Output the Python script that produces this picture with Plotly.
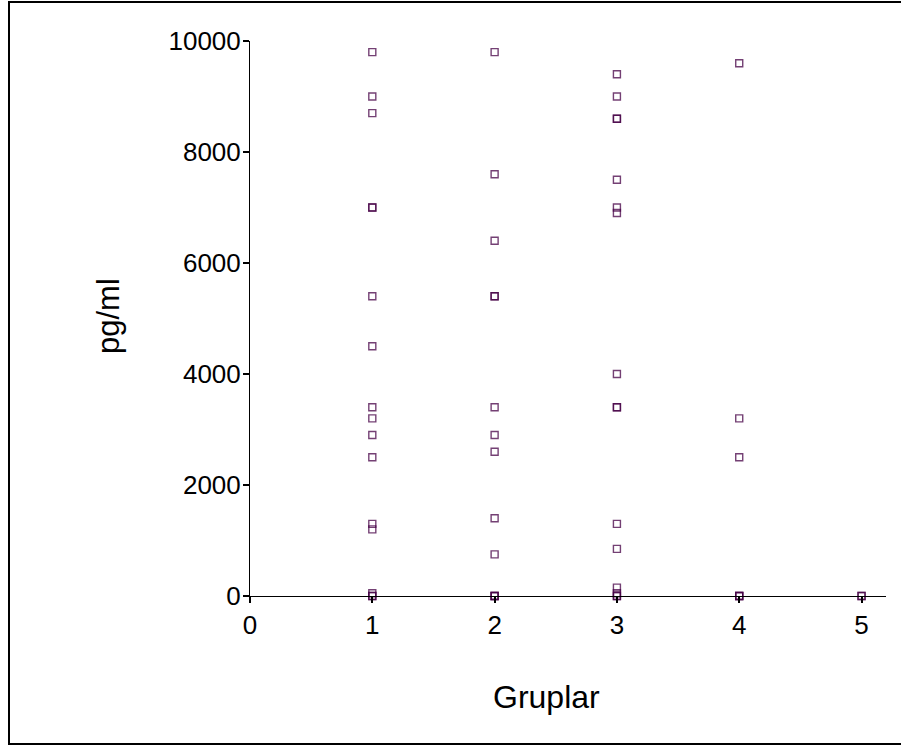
import plotly.graph_objects as go

# Data (groups 1..5, pg/ml values)
group1 = [9800, 9000, 8700, 7000, 7000, 5400, 4500, 3400, 3200, 2900, 2500, 1300, 1200, 50, 0, 0]
group2 = [9800, 7600, 6400, 5400, 5400, 3400, 2900, 2600, 1400, 750, 0, 0, 0]
group3 = [9400, 9000, 8600, 8600, 7500, 7000, 6900, 4000, 3400, 3400, 1300, 850, 150, 50, 0, 0]
group4 = [9600, 3200, 2500, 0, 0, 0]
group5 = [0, 0]
groups = [1, 2, 3, 4, 5]
values = [group1, group2, group3, group4, group5]

x_ticks = [0, 1, 2, 3, 4, 5]
y_ticks = [0, 2000, 4000, 6000, 8000, 10000]

xs, ys = [], []
for g, vals in zip(groups, values):
    xs += [g] * len(vals)
    ys += vals

FONT = "Liberation Sans, Arial, sans-serif"

fig = go.Figure()
fig.add_trace(go.Scatter(
    x=xs, y=ys, mode="markers",
    marker=dict(symbol="square-open", size=7,
                color="rgba(70,0,70,0.75)",
                line=dict(width=1.4, color="rgba(70,0,70,0.75)")),
    cliponaxis=False, showlegend=False, hoverinfo="x+y",
))

fig.update_layout(
    width=901, height=746,
    margin=dict(l=250, r=15, t=41, b=150),
    paper_bgcolor="white", plot_bgcolor="white",
    font=dict(family=FONT, color="black"),
    xaxis=dict(
        range=[0, 5.2], tickvals=x_ticks, ticktext=[str(v) for v in x_ticks],
        showgrid=False, zeroline=False, showline=True, linecolor="black", linewidth=1,
        ticks="outside", ticklen=6, tickwidth=2, tickcolor="black",
        tickfont=dict(size=26, family=FONT, color="black"),
    ),
    yaxis=dict(
        range=[0, 10000], tickvals=y_ticks, ticktext=[str(v) for v in y_ticks],
        showgrid=False, zeroline=False, showline=True, linecolor="black", linewidth=1,
        ticks="outside", ticklen=6, tickwidth=2, tickcolor="black",
        ticklabelstandoff=-3,
        tickfont=dict(size=26, family=FONT, color="black"),
    ),
    annotations=[
        dict(text="Gruplar", xref="paper", yref="paper",
             x=(546 - 250) / 636, y=-(697 - 596) / 555,
             xanchor="center", yanchor="middle", showarrow=False,
             font=dict(size=32, family=FONT, color="black")),
        dict(text="pg/ml", xref="paper", yref="paper",
             x=(108 - 250) / 636, y=(596 - 316) / 555,
             xanchor="center", yanchor="middle", showarrow=False, textangle=-90,
             font=dict(size=31, family=FONT, color="black")),
    ],
    shapes=[
        dict(type="rect", xref="paper", yref="paper",
             x0=(9 - 250) / 636, x1=(910 - 250) / 636,
             y0=(596 - 744) / 555, y1=(596 - 2) / 555,
             line=dict(color="black", width=2), fillcolor="rgba(0,0,0,0)", layer="above"),
    ],
)

fig.write_html("out.html", config={"displayModeBar": False},
               post_script="document.body.style.margin='0px';")
